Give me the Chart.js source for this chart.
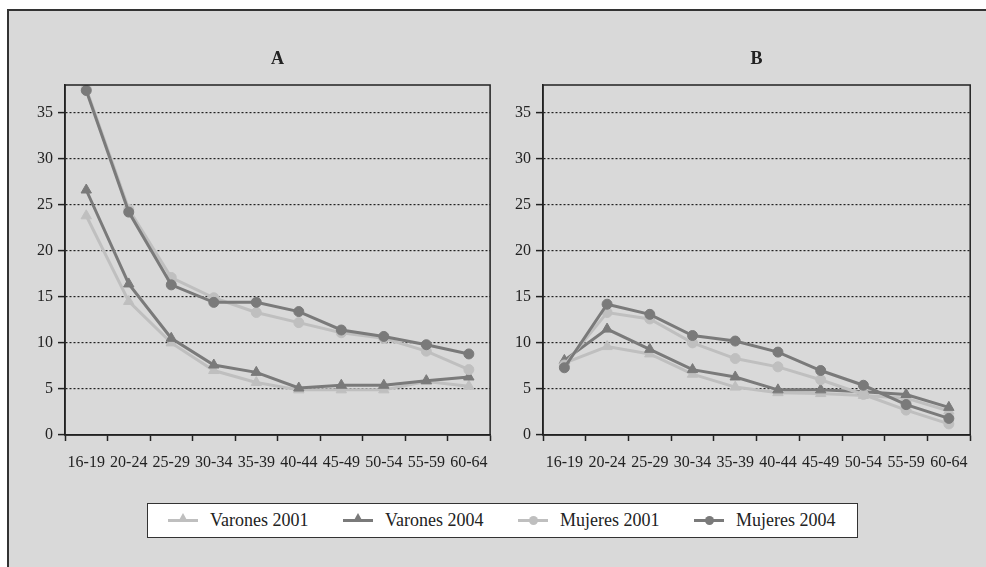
<!DOCTYPE html>
<html>
<head>
<meta charset="utf-8">
<script src="https://cdn.jsdelivr.net/npm/chart.js@4"></script>
<style>
  html, body { margin: 0; padding: 0; background: #fff; width: 986px; height: 567px; overflow: hidden; }
  #frame { position: absolute; left: 7px; top: 9px; width: 1000px; height: 600px; background: #d9d9d9; border-left: 2px solid #333; border-top: 2px solid #333; }
  .chart-box { position: absolute; top: 40px; width: 490px; height: 435px; }
  #legend { position: absolute; left: 147px; top: 503px; width: 709px; height: 33px; background: #fff; border: 1.5px solid #333; font-family: 'Liberation Serif', serif; font-size: 18px; color: #222; }
  .item { position: absolute; top: 0; height: 33px; }
  .item .ln { position: absolute; top: 15px; width: 30px; height: 3px; }
  .item .mk { position: absolute; }
  .item .tx { position: absolute; top: 6px; white-space: nowrap; }
</style>
</head>
<body>
<div id="frame"></div>
<div class="chart-box" style="left:10px"><canvas id="chart-a" width="490" height="435"></canvas></div>
<div class="chart-box" style="left:490px"><canvas id="chart-b" width="490" height="435"></canvas></div>
<div id="legend"></div>
<script>
// ── DATA ──
const categories = ['16-19', '20-24', '25-29', '30-34', '35-39', '40-44', '45-49', '50-54', '55-59', '60-64']
const seriesNames = ['Varones 2001', 'Varones 2004', 'Mujeres 2001', 'Mujeres 2004']
const yTicks = [0, 5, 10, 15, 20, 25, 30, 35]

const varones2001A = [23.8, 14.5, 10.0, 7.0, 5.7, 4.9, 4.9, 4.9, 5.8, 5.3]
const varones2004A = [26.6, 16.4, 10.5, 7.6, 6.8, 5.1, 5.4, 5.4, 5.9, 6.3]
const mujeres2001A = [37.6, 24.5, 17.1, 14.9, 13.3, 12.2, 11.1, 10.5, 9.1, 7.1]
const mujeres2004A = [37.4, 24.2, 16.3, 14.4, 14.4, 13.4, 11.4, 10.7, 9.8, 8.8]

const varones2001B = [7.8, 9.6, 8.8, 6.6, 5.2, 4.6, 4.5, 4.3, 4.0, 2.6]
const varones2004B = [8.1, 11.5, 9.3, 7.1, 6.3, 4.9, 4.9, 4.7, 4.4, 3.0]
const mujeres2001B = [7.6, 13.3, 12.6, 10.0, 8.3, 7.4, 6.0, 4.4, 2.7, 1.2]
const mujeres2004B = [7.3, 14.2, 13.1, 10.8, 10.2, 9.0, 7.0, 5.4, 3.3, 1.8]

// ── STYLE ──
const LIGHT = '#bfbfbf'
const DARK = '#7a7a7a'
const INK = '#222'
const FONT = 'Liberation Serif'
const styles = [
  { color: LIGHT, point: 'triangle', radius: 6 },
  { color: DARK, point: 'triangle', radius: 6 },
  { color: LIGHT, point: 'circle', radius: 5 },
  { color: DARK, point: 'circle', radius: 5 }
]

// box around the plot area
const framePlugin = {
  id: 'frame',
  afterDraw(chart) {
    const { ctx, chartArea: a } = chart
    ctx.save()
    ctx.strokeStyle = INK
    ctx.lineWidth = 1.5
    ctx.strokeRect(a.left, a.top, a.right - a.left, a.bottom - a.top)
    ctx.restore()
  }
}

function makePanel(id, title, series, yWidth, padRight) {
  return new Chart(document.getElementById(id), {
    type: 'line',
    data: {
      labels: categories,
      datasets: series.map((values, i) => ({
        label: seriesNames[i],
        data: values,
        order: series.length - i,
        borderColor: styles[i].color,
        backgroundColor: styles[i].color,
        borderWidth: 3,
        tension: 0,
        pointStyle: styles[i].point,
        pointRadius: styles[i].radius,
        pointBorderWidth: 1,
        pointBorderColor: styles[i].color,
        pointBackgroundColor: styles[i].color
      }))
    },
    options: {
      responsive: false,
      animation: false,
      devicePixelRatio: 1,
      layout: { padding: { left: 0, right: padRight, top: 0, bottom: 0 } },
      plugins: {
        legend: { display: false },
        tooltip: { enabled: false },
        title: {
          display: true,
          text: title,
          fullSize: false,
          color: INK,
          font: { family: FONT, size: 18, weight: 'bold', lineHeight: 1.2 },
          padding: { top: 9, bottom: 14.4 }
        }
      },
      scales: {
        x: {
          offset: true,
          afterFit: s => { s.height = 40 },
          grid: { offset: true, drawOnChartArea: false, drawTicks: true, tickLength: 6, tickColor: INK, tickWidth: 1.5, color: INK },
          border: { color: INK, width: 1.5 },
          ticks: { color: INK, font: { family: FONT, size: 16 }, autoSkip: false, maxRotation: 0, padding: 12 }
        },
        y: {
          min: 0,
          max: 38,
          afterFit: s => { s.width = yWidth },
          afterBuildTicks: s => { s.ticks = yTicks.map(v => ({ value: v })) },
          grid: {
            color: ctx => ctx.tick && ctx.tick.value === 0 ? 'rgba(0,0,0,0)' : INK,
            lineWidth: 1.2,
            tickLength: 7,
            tickColor: INK,
            tickWidth: 1.5,
            tickBorderDash: []
          },
          border: { color: INK, width: 1.5, dash: [2, 2] },
          ticks: { color: INK, font: { family: FONT, size: 16 }, padding: 5 }
        }
      }
    },
    plugins: [framePlugin]
  })
}

makePanel('chart-a', 'A', [varones2001A, varones2004A, mujeres2001A, mujeres2004A], 55, 7)
makePanel('chart-b', 'B', [varones2001B, varones2004B, mujeres2001B, mujeres2004B], 53, 9)

// ── LEGEND ──
const legendX = [20, 195, 370, 546]
const legend = document.getElementById('legend')
seriesNames.forEach((name, i) => {
  const st = styles[i]
  const el = document.createElement('div')
  el.className = 'item'
  el.style.left = legendX[i] + 'px'
  const mk = st.point === 'circle'
    ? `<span class="mk" style="left:11px;top:12px;width:9px;height:9px;border-radius:50%;background:${st.color}"></span>`
    : `<span class="mk" style="left:10px;top:9px;width:0;height:0;border-left:5px solid transparent;border-right:5px solid transparent;border-bottom:9px solid ${st.color}"></span>`
  el.innerHTML = `<span class="ln" style="left:0;background:${st.color}"></span>${mk}<span class="tx" style="left:42px">${name}</span>`
  legend.appendChild(el)
})
</script>
</body>
</html>
